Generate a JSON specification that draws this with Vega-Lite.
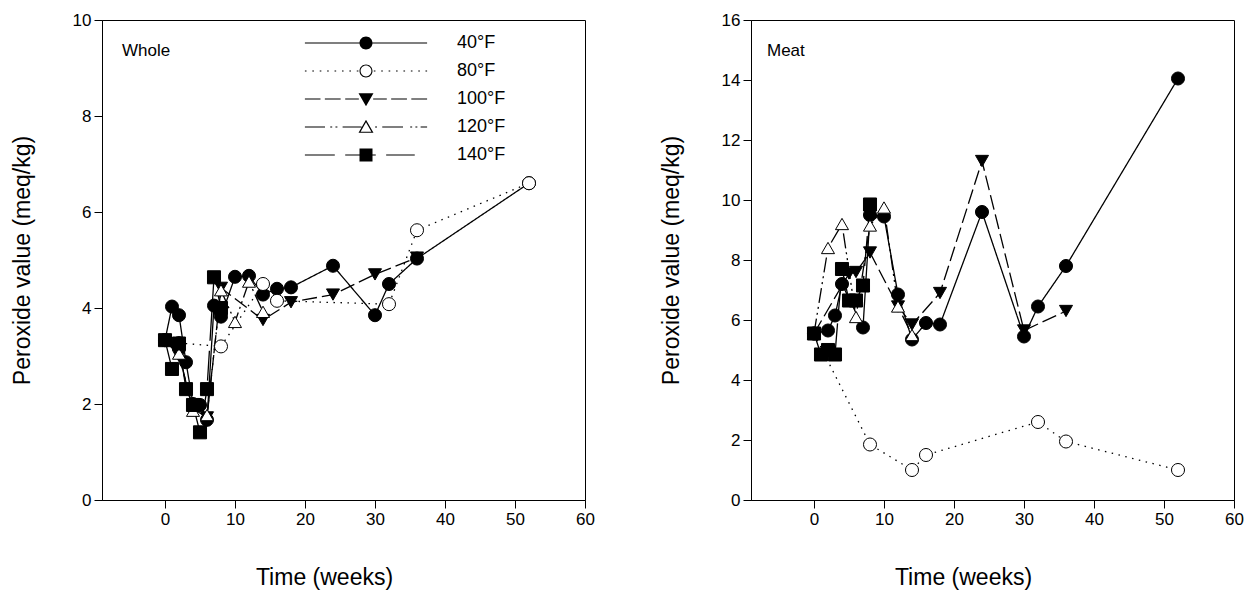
{
  "$schema": "https://vega.github.io/schema/vega-lite/v6.json",
  "padding": {"left": 10, "top": 10, "right": 0, "bottom": 0},
  "background": "white",
  "config": {
    "font": "Liberation Sans",
    "view": {"stroke": "black", "strokeWidth": 1},
    "axis": {
      "domainColor": "black", "tickColor": "black", "labelColor": "black", "titleColor": "black",
      "labelFont": "Liberation Sans", "titleFont": "Liberation Sans",
      "labelFontSize": 17, "titleFontSize": 23, "titleFontWeight": "normal",
      "tickSize": 8, "labelPadding": 3, "grid": false, "labelFlush": false
    },
    "axisX": {"titlePadding": 39},
    "axisY": {"titlePadding": 38},
    "title": {"font": "Liberation Sans", "fontWeight": "normal", "fontSize": 17, "color": "black"}
  },
  "datasets": {
    "whole": [
      {"temp": "40°F", "t": 0, "v": 3.33}, {"temp": "40°F", "t": 1, "v": 4.03}, {"temp": "40°F", "t": 2, "v": 3.85},
      {"temp": "40°F", "t": 3, "v": 2.87}, {"temp": "40°F", "t": 4, "v": 2.0}, {"temp": "40°F", "t": 5, "v": 1.98},
      {"temp": "40°F", "t": 6, "v": 1.67}, {"temp": "40°F", "t": 7, "v": 4.05}, {"temp": "40°F", "t": 8, "v": 3.82},
      {"temp": "40°F", "t": 10, "v": 4.65}, {"temp": "40°F", "t": 12, "v": 4.67}, {"temp": "40°F", "t": 14, "v": 4.28},
      {"temp": "40°F", "t": 16, "v": 4.4}, {"temp": "40°F", "t": 18, "v": 4.43}, {"temp": "40°F", "t": 24, "v": 4.88},
      {"temp": "40°F", "t": 30, "v": 3.85}, {"temp": "40°F", "t": 32, "v": 4.5}, {"temp": "40°F", "t": 36, "v": 5.03},
      {"temp": "40°F", "t": 52, "v": 6.6},
      {"temp": "80°F", "t": 0, "v": 3.33}, {"temp": "80°F", "t": 2, "v": 3.27}, {"temp": "80°F", "t": 8, "v": 3.2},
      {"temp": "80°F", "t": 14, "v": 4.5}, {"temp": "80°F", "t": 16, "v": 4.15}, {"temp": "80°F", "t": 32, "v": 4.08},
      {"temp": "80°F", "t": 36, "v": 5.62}, {"temp": "80°F", "t": 52, "v": 6.6},
      {"temp": "100°F", "t": 0, "v": 3.33}, {"temp": "100°F", "t": 2, "v": 3.0}, {"temp": "100°F", "t": 4, "v": 1.9},
      {"temp": "100°F", "t": 6, "v": 1.72}, {"temp": "100°F", "t": 8, "v": 4.42}, {"temp": "100°F", "t": 14, "v": 3.75},
      {"temp": "100°F", "t": 18, "v": 4.12}, {"temp": "100°F", "t": 24, "v": 4.28}, {"temp": "100°F", "t": 30, "v": 4.7},
      {"temp": "100°F", "t": 36, "v": 5.05},
      {"temp": "120°F", "t": 0, "v": 3.33}, {"temp": "120°F", "t": 2, "v": 3.05}, {"temp": "120°F", "t": 4, "v": 1.86},
      {"temp": "120°F", "t": 6, "v": 1.77}, {"temp": "120°F", "t": 8, "v": 4.37}, {"temp": "120°F", "t": 10, "v": 3.71},
      {"temp": "120°F", "t": 12, "v": 4.55}, {"temp": "120°F", "t": 14, "v": 3.92},
      {"temp": "140°F", "t": 0, "v": 3.33}, {"temp": "140°F", "t": 1, "v": 2.73}, {"temp": "140°F", "t": 2, "v": 3.26},
      {"temp": "140°F", "t": 3, "v": 2.31}, {"temp": "140°F", "t": 4, "v": 1.98}, {"temp": "140°F", "t": 5, "v": 1.41},
      {"temp": "140°F", "t": 6, "v": 2.31}, {"temp": "140°F", "t": 7, "v": 4.64}, {"temp": "140°F", "t": 8, "v": 4.0}
    ],
    "meat": [
      {"temp": "40°F", "t": 0, "v": 5.55}, {"temp": "40°F", "t": 2, "v": 5.65}, {"temp": "40°F", "t": 3, "v": 6.15},
      {"temp": "40°F", "t": 4, "v": 7.2}, {"temp": "40°F", "t": 7, "v": 5.75}, {"temp": "40°F", "t": 8, "v": 9.5},
      {"temp": "40°F", "t": 10, "v": 9.45}, {"temp": "40°F", "t": 12, "v": 6.85}, {"temp": "40°F", "t": 14, "v": 5.35},
      {"temp": "40°F", "t": 16, "v": 5.9}, {"temp": "40°F", "t": 18, "v": 5.85}, {"temp": "40°F", "t": 24, "v": 9.6},
      {"temp": "40°F", "t": 30, "v": 5.45}, {"temp": "40°F", "t": 32, "v": 6.45}, {"temp": "40°F", "t": 36, "v": 7.8},
      {"temp": "40°F", "t": 52, "v": 14.05},
      {"temp": "80°F", "t": 0, "v": 5.55}, {"temp": "80°F", "t": 8, "v": 1.85}, {"temp": "80°F", "t": 14, "v": 1.0},
      {"temp": "80°F", "t": 16, "v": 1.5}, {"temp": "80°F", "t": 32, "v": 2.6}, {"temp": "80°F", "t": 36, "v": 1.95},
      {"temp": "80°F", "t": 52, "v": 1.0},
      {"temp": "100°F", "t": 0, "v": 5.55}, {"temp": "100°F", "t": 5, "v": 7.55}, {"temp": "100°F", "t": 6, "v": 7.6},
      {"temp": "100°F", "t": 8, "v": 8.25}, {"temp": "100°F", "t": 12, "v": 6.45}, {"temp": "100°F", "t": 14, "v": 5.85},
      {"temp": "100°F", "t": 18, "v": 6.9}, {"temp": "100°F", "t": 24, "v": 11.3}, {"temp": "100°F", "t": 30, "v": 5.65},
      {"temp": "100°F", "t": 36, "v": 6.3},
      {"temp": "120°F", "t": 0, "v": 5.55}, {"temp": "120°F", "t": 2, "v": 8.4}, {"temp": "120°F", "t": 4, "v": 9.2},
      {"temp": "120°F", "t": 6, "v": 6.1}, {"temp": "120°F", "t": 8, "v": 9.15}, {"temp": "120°F", "t": 10, "v": 9.75},
      {"temp": "120°F", "t": 12, "v": 6.45}, {"temp": "120°F", "t": 14, "v": 5.5},
      {"temp": "140°F", "t": 0, "v": 5.55}, {"temp": "140°F", "t": 1, "v": 4.85}, {"temp": "140°F", "t": 2, "v": 5.0},
      {"temp": "140°F", "t": 3, "v": 4.85}, {"temp": "140°F", "t": 4, "v": 7.7}, {"temp": "140°F", "t": 5, "v": 6.65},
      {"temp": "140°F", "t": 6, "v": 6.65}, {"temp": "140°F", "t": 7, "v": 7.15}, {"temp": "140°F", "t": 8, "v": 9.85}
    ]
  },
  "resolve": {"scale": {"strokeDash": "independent", "shape": "independent", "fill": "independent"}, "legend": {"strokeDash": "independent", "shape": "independent", "fill": "independent"}},
  "bounds": "flush",
  "spacing": 166,
  "hconcat": [
    {
      "width": 483, "height": 480,
      "data": {"name": "whole"},
      "title": {"text": "Whole", "anchor": "start", "frame": "group", "offset": -62, "dx": 20, "baseline": "alphabetic"},
      "encoding": {
        "x": {"field": "t", "type": "quantitative", "scale": {"domain": [-9, 60], "nice": false, "zero": false},
              "axis": {"values": [0, 10, 20, 30, 40, 50, 60], "title": "Time (weeks)", "titleX": 222}},
        "y": {"field": "v", "type": "quantitative", "scale": {"domain": [0, 10], "nice": false},
              "axis": {"values": [0, 2, 4, 6, 8, 10], "title": "Peroxide value (meq/kg)"}}
      },
      "resolve": {"scale": {"shape": "independent"}, "legend": {"shape": "independent"}},
      "layer": [
        {
          "mark": {"type": "line", "color": "black", "strokeWidth": 1.3},
          "encoding": {
            "strokeDash": {"field": "temp", "type": "nominal", "legend": null,
              "scale": {"domain": ["40°F", "80°F", "100°F", "120°F", "140°F"],
                        "range": [[1, 0], [1.5, 5.5], [15, 5], [15, 4, 2, 4, 2, 4], [30, 10]]}}
          }
        },
        {
          "mark": {"type": "point", "filled": true, "stroke": "black", "strokeWidth": 1, "size": 170, "opacity": 1},
          "encoding": {
            "shape": {"field": "temp", "type": "nominal", "legend": null,
              "scale": {"domain": ["40°F", "80°F", "100°F", "120°F", "140°F"],
                        "range": ["circle", "circle", "triangle-down", "triangle-up", "square"]}},
            "fill": {"field": "temp", "type": "nominal", "legend": null,
              "scale": {"domain": ["40°F", "80°F", "100°F", "120°F", "140°F"],
                        "range": ["black", "white", "black", "white", "black"]}}
          }
        },
        {
          "mark": {"type": "point", "filled": true, "fill": "black", "strokeWidth": 0, "opacity": 0},
          "encoding": {
            "shape": {"field": "temp", "type": "nominal",
              "scale": {"domain": ["40°F", "80°F", "100°F", "120°F", "140°F"],
                        "range": [
                          "M-9.4,-0.09H-1V0.09H-9.4ZM1,-0.09H9.4V0.09H1ZM-1,0A1,1,0,1,1,1,0A1,1,0,1,1,-1,0Z",
                          "M-9.4,-0.09h0.25v0.18h-0.25ZM-8.26,-0.09h0.25v0.18h-0.25ZM-7.12,-0.09h0.25v0.18h-0.25ZM-5.98,-0.09h0.25v0.18h-0.25ZM-4.84,-0.09h0.25v0.18h-0.25ZM-3.7,-0.09h0.25v0.18h-0.25ZM-2.56,-0.09h0.25v0.18h-0.25ZM-1.42,-0.09h0.25v0.18h-0.25ZM1.2,-0.09h0.25v0.18h-0.25ZM2.34,-0.09h0.25v0.18h-0.25ZM3.48,-0.09h0.25v0.18h-0.25ZM4.62,-0.09h0.25v0.18h-0.25ZM5.76,-0.09h0.25v0.18h-0.25ZM6.9,-0.09h0.25v0.18h-0.25ZM8.04,-0.09h0.25v0.18h-0.25ZM9.15,-0.09h0.25v0.18h-0.25ZM-1,0A1,1,0,1,1,1,0A1,1,0,1,1,-1,0ZM-0.83,0A0.83,0.83,0,1,0,0.83,0A0.83,0.83,0,1,0,-0.83,0Z",
                          "M-9.4,-0.09H-7V0.09H-9.4ZM-6.33,-0.09H-3.9V0.09H-6.33ZM-3.2,-0.09H-1.1V0.09H-3.2ZM1.1,-0.09H3.2V0.09H1.1ZM3.87,-0.09H6.3V0.09H3.87ZM6.97,-0.09H9.4V0.09H6.97ZM-1.15,-0.9L1.15,-0.9L0,1.1Z",
                          "M-9.4,-0.09H-6.3V0.09H-9.4ZM-5.5,-0.09h0.3v0.18h-0.3ZM-4.7,-0.09h0.3v0.18h-0.3ZM-3.6,-0.09H-0.68V0.09H-3.6ZM1.4,-0.09h0.3v0.18h-0.3ZM2.5,-0.09H5.7V0.09H2.5ZM6.8,-0.09h0.3v0.18h-0.3ZM7.6,-0.09h0.3v0.18h-0.3ZM8.4,-0.09H9.4V0.09H8.4ZM0,-1.1L1.15,0.9L-1.15,0.9ZM0,-0.73L-0.83,0.715L0.83,0.715Z",
                          "M-9.4,-0.09H-4.8V0.09H-9.4ZM-3.2,-0.09H-1V0.09H-3.2ZM1,-0.09H1.5V0.09H1ZM3.1,-0.09H7.5V0.09H3.1ZM-1,-1H1V1H-1Z"
                        ]},
              "legend": {
                "orient": "none", "legendX": 255, "legendY": 14, "title": null,
                "symbolSize": 169, "labelOffset": 82, "labelFontSize": 18, "labelFont": "Liberation Sans",
                "labelColor": "black", "rowPadding": 10, "symbolStrokeWidth": 0, "symbolOpacity": 1,
                "symbolFillColor": "black", "padding": 0
              }
            }
          }
        }
      ]
    },
    {
      "width": 483, "height": 480,
      "data": {"name": "meat"},
      "title": {"text": "Meat", "anchor": "start", "frame": "group", "offset": -62, "dx": 16, "baseline": "alphabetic"},
      "encoding": {
        "x": {"field": "t", "type": "quantitative", "scale": {"domain": [-9, 60], "nice": false, "zero": false},
              "axis": {"values": [0, 10, 20, 30, 40, 50, 60], "title": "Time (weeks)", "titleX": 212}},
        "y": {"field": "v", "type": "quantitative", "scale": {"domain": [0, 16], "nice": false},
              "axis": {"values": [0, 2, 4, 6, 8, 10, 12, 14, 16], "title": "Peroxide value (meq/kg)"}}
      },
      "layer": [
        {
          "mark": {"type": "line", "color": "black", "strokeWidth": 1.3},
          "encoding": {
            "strokeDash": {"field": "temp", "type": "nominal", "legend": null,
              "scale": {"domain": ["40°F", "80°F", "100°F", "120°F", "140°F"],
                        "range": [[1, 0], [1.5, 5.5], [15, 5], [15, 4, 2, 4, 2, 4], [30, 10]]}}
          }
        },
        {
          "mark": {"type": "point", "filled": true, "stroke": "black", "strokeWidth": 1, "size": 170, "opacity": 1},
          "encoding": {
            "shape": {"field": "temp", "type": "nominal", "legend": null,
              "scale": {"domain": ["40°F", "80°F", "100°F", "120°F", "140°F"],
                        "range": ["circle", "circle", "triangle-down", "triangle-up", "square"]}},
            "fill": {"field": "temp", "type": "nominal", "legend": null,
              "scale": {"domain": ["40°F", "80°F", "100°F", "120°F", "140°F"],
                        "range": ["black", "white", "black", "white", "black"]}}
          }
        }
      ]
    }
  ]
}
